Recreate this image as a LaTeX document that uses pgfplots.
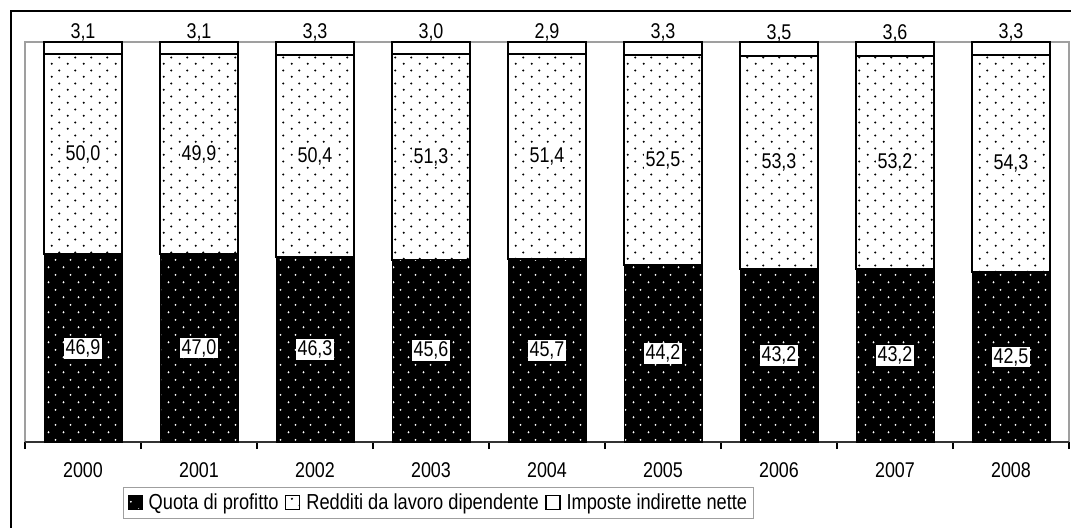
\documentclass[border=0pt]{standalone}
\usepackage{fontspec}
\setmainfont{Liberation Sans}[FakeStretch=0.84]
\usepackage{pgfplots}
\usepackage{pgfplotstable}
\pgfplotsset{compat=1.18}
\usetikzlibrary{patterns}

\pgfdeclarepatternformonly{botdots}{\pgfqpoint{0pt}{0pt}}{\pgfqpoint{11.25pt}{11.55pt}}{\pgfqpoint{11.25pt}{11.55pt}}{%
  \pgfpathcircle{\pgfqpoint{2.8pt}{2.9pt}}{0.8pt}%
  \pgfpathcircle{\pgfqpoint{8.43pt}{8.66pt}}{0.8pt}%
  \pgfusepath{fill}}
\pgfdeclarepatternformonly{middots}{\pgfqpoint{0pt}{0pt}}{\pgfqpoint{12pt}{10pt}}{\pgfqpoint{12pt}{10pt}}{%
  \pgfpathcircle{\pgfqpoint{3pt}{2.5pt}}{0.9pt}%
  \pgfpathcircle{\pgfqpoint{9pt}{7.5pt}}{0.9pt}%
  \pgfusepath{fill}}

\pgfplotstableread{
x q r i
0 46.9 50.0 3.1
1 47.0 49.9 3.1
2 46.3 50.4 3.3
3 45.6 51.3 3.0
4 45.7 51.4 2.9
5 44.2 52.5 3.3
6 43.2 53.3 3.5
7 43.2 53.2 3.6
8 42.5 54.3 3.3
}\data

\begin{document}
\begin{tikzpicture}
\path[use as bounding box] (-18.75pt,-64.5pt) rectangle (784.5pt,331.5pt);
\draw[black, line width=1.1pt] (-10.5pt,-80pt) -- (-10.5pt,323.25pt) -- (800pt,323.25pt);
\begin{axis}[
  at={(0,0)}, anchor=south west,
  scale only axis, width=783pt, height=300pt,
  ybar stacked, bar width=0.672,
  xmin=-0.5, xmax=8.5, ymin=0, ymax=100,
  clip=false,
  font=\fontsize{16}{19}\selectfont,
  axis line style={draw=gray!75, line width=1.2pt},
  ytick=\empty,
  xtick={0,...,8},
  xticklabels={2000,2001,2002,2003,2004,2005,2006,2007,2008},
  tick align=outside,
  xtick pos=bottom,
  major tick length=0pt,
  extra x ticks={-0.5,0.5,1.5,2.5,3.5,4.5,5.5,6.5,7.5,8.5},
  extra x tick labels={},
  extra x tick style={major tick length=5.25pt, tick style={draw=black, line width=0.8pt}},
  xticklabel style={yshift=-12pt},
  legend columns=-1,
  legend image code/.code={\draw[#1, line width=0.8pt] (0pt,-5pt) rectangle (10.5pt,5.5pt);},
  legend style={at={(axis description cs:0.094,0)}, anchor=north west, yshift=-33.5pt,
    draw=gray!75, line width=0.8pt, inner xsep=3pt, inner ysep=3pt,
    font=\fontsize{16.3}{20}\selectfont,
    /tikz/every odd column/.append style={column sep=2.5pt},
    /tikz/every even column/.append style={column sep=3pt}},
]
\addplot[fill=black, draw=black, line width=0.4pt,
  postaction={pattern=botdots, pattern color=white},
  point meta=\thisrow{q},
  nodes near coords={\pgfmathprintnumber[fixed,fixed zerofill,precision=1,use comma,assume math mode=true]{\pgfplotspointmeta}},
  every node near coord/.append style={anchor=center, fill=white, text=black, inner sep=1.2pt}
] table[x=x,y=q]{\data};
\addlegendentry{Quota di profitto}
\addplot[fill=white, draw=black, line width=1.5pt,
  postaction={pattern=middots, pattern color=black},
  point meta=\thisrow{r},
  nodes near coords={\pgfmathprintnumber[fixed,fixed zerofill,precision=1,use comma,assume math mode=true]{\pgfplotspointmeta}},
  every node near coord/.append style={anchor=center, fill=white, text=black, inner sep=1.2pt}
] table[x=x,y=r]{\data};
\addlegendentry{Redditi da lavoro dipendente}
\addplot[fill=white, draw=black, line width=1.5pt,
  point meta=\thisrow{i},
  nodes near coords={\pgfmathprintnumber[fixed,fixed zerofill,precision=1,use comma,assume math mode=true]{\pgfplotspointmeta}},
  every node near coord/.append style={anchor=south, text=black, inner sep=1.5pt, yshift=3pt}
] table[x=x,y=i]{\data};
\addlegendentry{Imposte indirette nette}
\draw[gray!40!black, line width=1.2pt] (rel axis cs:0,0) -- (rel axis cs:1,0);
\end{axis}
\end{tikzpicture}
\end{document}
